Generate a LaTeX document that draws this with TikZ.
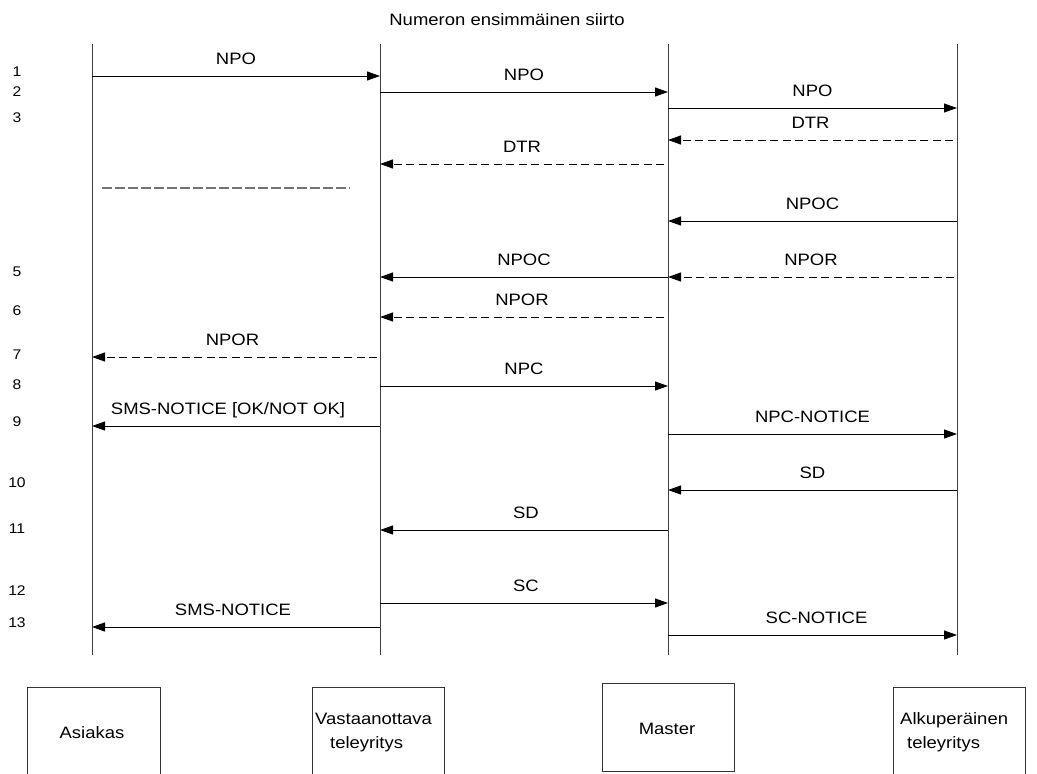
\documentclass[tikz,border=0pt]{standalone}
\usepackage{fontspec}
\setmainfont{Liberation Sans}[FakeStretch=1.12]
\usetikzlibrary{arrows.meta}
\newcommand\msgline[7]{%
  \coordinate (#1s) at (#2,#4);
  \coordinate (#1e) at (#3,#4);
  \draw[#5] (#1s) -- (#1e) node[lbl, midway, anchor=base, yshift=12pt, xshift=#7pt] (#1l) {#6};}
\begin{document}
\begin{tikzpicture}[x=1pt,y=-1pt,
  lifeline/.style={draw=black!75, line width=1pt},
  msg/.style={draw=black, line width=1pt, -{Triangle[length=13pt,width=9pt]}},
  dmsg/.style={msg, dash pattern=on 8pt off 4.5pt},
  lbl/.style={font=\fontsize{16.5}{16.5}\selectfont, inner sep=0pt},
  num/.style={font=\fontsize{14}{14}\selectfont, inner sep=0pt},
  boxline/.style={draw=black!80, line width=1pt},
  boxtext/.style={font=\fontsize{16.5}{24}\selectfont, inner sep=0pt, align=left}
]
\useasboundingbox (0,0) rectangle (1037,774);

% title
\node[lbl, anchor=base] (title) at (507,25) {Numeron ensimmäinen siirto};

% lifelines
\foreach \i/\x in {1/92, 2/380, 3/668, 4/957} {
  \coordinate (L\i t) at (\x,44);
  \coordinate (L\i b) at (\x,655);
  \draw[lifeline] (L\i t) -- (L\i b);
}

% row numbers
\foreach \t/\y in {1/72, 2/92, 3/118, 5/272, 6/311, 7/355, 8/385, 9/422, 10/483, 11/529, 12/591, 13/623} {
  \node[num] (n\t) at (17,\y) {\t};
}

% messages
\msgline{m1}{92}{380}{76}{msg}{NPO}{0}
\msgline{m2}{380}{668}{92}{msg}{NPO}{0}
\msgline{m3}{668}{957}{108}{msg}{NPO}{0}
\msgline{m4}{953}{668}{140}{dmsg}{DTR}{0}
\msgline{m5}{664}{380}{164}{dmsg}{DTR}{0}
\msgline{m6}{957}{668}{221}{msg}{NPOC}{0}
\msgline{m7}{668}{380}{277}{msg}{NPOC}{0}
\msgline{m8}{954}{668}{277}{dmsg}{NPOR}{0}
\msgline{m9}{664}{380}{317}{dmsg}{NPOR}{0}
\msgline{m10}{377}{92}{357}{dmsg}{NPOR}{-2}
\msgline{m11}{380}{668}{386}{msg}{NPC}{0}
\msgline{m12}{380}{92}{426}{msg}{SMS-NOTICE [OK/NOT OK]}{-8}
\msgline{m13}{668}{957}{434}{msg}{NPC-NOTICE}{0}
\msgline{m14}{957}{668}{490}{msg}{SD}{0}
\msgline{m15}{668}{380}{530}{msg}{SD}{2}
\msgline{m16}{380}{668}{603}{msg}{SC}{2}
\msgline{m17}{380}{92}{627}{msg}{SMS-NOTICE}{-3}
\msgline{m18}{668}{957}{635}{msg}{SC-NOTICE}{4}

% gray dashed separator
\coordinate (g1) at (102,188);
\coordinate (g2) at (350,188);
\draw[draw=black!55, line width=1.5pt, dash pattern=on 9.5pt off 3.5pt] (g1) -- (g2);

% participant boxes
\draw[boxline] (27,775) -- (27,687) -- (160,687) -- (160,775);
\draw[boxline] (312,775) -- (312,687) -- (444,687) -- (444,775);
\draw[boxline] (602,683) rectangle (734,771);
\draw[boxline] (893,775) -- (893,687) -- (1025,687) -- (1025,775);

\node[lbl, anchor=base] (p1) at (92,738) {Asiakas};
\node[boxtext, anchor=north west] (p2) at (315,713) {Vastaanottava\\\hspace*{15pt}teleyritys};
\node[lbl, anchor=base] (p3) at (667,734) {Master};
\node[boxtext, anchor=north west] (p4) at (900,712) {Alkuperäinen\\\hspace*{7pt}teleyritys};
\end{tikzpicture}
\end{document}
